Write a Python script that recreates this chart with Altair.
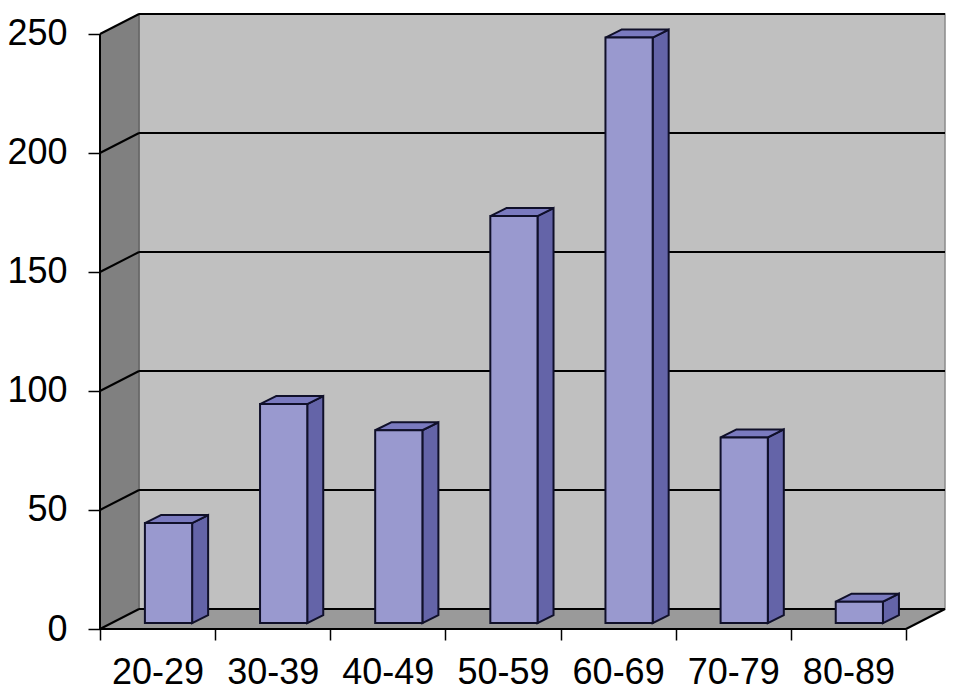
import altair as alt
import pandas as pd

# ---- data ----
categories = ["20-29", "30-39", "40-49", "50-59", "60-69", "70-79", "80-89"]
counts = [42, 92, 81, 171, 246, 78, 9]
y_ticks = [0, 50, 100, 150, 200, 250]

# ---- 3D geometry (in data units) ----
N = len(categories)
YMAX = 250
DXW, DYW = 0.339, 8.4      # wall depth offset
BX0, BX1 = 0.39, 0.80      # bar front face within slot
BBASE = 2.5                # bar base height (depth position)
DXB, DYB = 0.139, 3.36     # bar depth offset

W, H = 845, 615
FONT = "Liberation Sans"

xs = alt.Scale(domain=[0, N + DXW], nice=False, zero=False)
ys = alt.Scale(domain=[0, YMAX + DYW], nice=False, zero=False)

label_arr = "[" + ",".join("'%s'" % c for c in categories) + ",'']"
xaxis = alt.Axis(values=list(range(N + 1)), domain=False, grid=False, title=None,
                 tickSize=11, tickColor="black", tickWidth=1.5,
                 labelExpr=label_arr + "[datum.value]",
                 labelOffset=W / (N + DXW) / 2, labelOverlap=False, labelFlush=False,
                 labelFont=FONT, labelFontSize=36, labelColor="black",
                 labelBaseline="alphabetic", labelPadding=43)
yaxis = alt.Axis(values=y_ticks, domain=False, grid=False, title=None,
                 tickSize=12, tickColor="black", tickWidth=1.5,
                 labelFont=FONT, labelFontSize=36, labelColor="black",
                 labelPadding=21)


def X(f):
    return alt.X(f, scale=xs, axis=xaxis, title=None)


def Y(f):
    return alt.Y(f, scale=ys, axis=yaxis, title=None)


# back wall
back = pd.DataFrame({"x": [DXW], "x2": [N + DXW], "y": [DYW], "y2": [YMAX + DYW]})
back_l = alt.Chart(back).mark_rect(fill="#c0c0c0", stroke="#8a8a8a", strokeWidth=1.5).encode(
    x=X("x:Q"), x2="x2", y=Y("y:Q"), y2="y2")

# left wall (vertical sided parallelogram)
lw = pd.DataFrame({"id": [0, 0], "x": [0, DXW], "y": [0, DYW], "y2": [YMAX, YMAX + DYW]})
left_l = alt.Chart(lw).mark_area(fill="#808080", stroke="#555555", strokeWidth=1, orient="vertical").encode(
    x=X("x:Q"), y=Y("y:Q"), y2="y2", detail="id:N")

# floor (horizontal sided parallelogram)
fl = pd.DataFrame({"id": [0, 0], "y": [0, DYW], "x": [0, DXW], "x2": [N, N + DXW]})
floor_l = alt.Chart(fl).mark_area(fill="#9a9a9a", orient="horizontal").encode(
    y=Y("y:Q"), x=X("x:Q"), x2="x2", detail="id:N")

# grid lines on back wall and left wall
gv = y_ticks
grid_back = pd.DataFrame({"x": [DXW] * len(gv), "x2": [N + DXW] * len(gv),
                          "y": [v + DYW for v in gv]})
grid_b_l = alt.Chart(grid_back).mark_rule(color="black", strokeWidth=2).encode(
    x=X("x:Q"), x2="x2", y=Y("y:Q"))
grid_left = pd.DataFrame({"x": [0] * len(gv), "x2": [DXW] * len(gv),
                          "y": gv, "y2": [v + DYW for v in gv]})
grid_l_l = alt.Chart(grid_left).mark_rule(color="black", strokeWidth=2).encode(
    x=X("x:Q"), x2="x2", y=Y("y:Q"), y2="y2")

# edges: front vertical axis line, floor front edge, floor right edge
edges = pd.DataFrame({"x": [0, 0, N], "x2": [0, N, N + DXW],
                      "y": [0, 0, 0], "y2": [YMAX, 0, DYW]})
edges_l = alt.Chart(edges).mark_rule(color="black", strokeWidth=2).encode(
    x=X("x:Q"), x2="x2", y=Y("y:Q"), y2="y2")

# bars
fronts = pd.DataFrame({"i": list(range(N)),
                       "x": [i + BX0 for i in range(N)], "x2": [i + BX1 for i in range(N)],
                       "y": [BBASE] * N, "y2": [BBASE + v for v in counts]})
side_rows, top_rows = [], []
for i, v in enumerate(counts):
    side_rows.append({"id": i, "x": i + BX1, "y": BBASE, "y2": BBASE + v})
    side_rows.append({"id": i, "x": i + BX1 + DXB, "y": BBASE + DYB, "y2": BBASE + v + DYB})
    top_rows.append({"id": i, "y": BBASE + v, "x": i + BX0, "x2": i + BX1})
    top_rows.append({"id": i, "y": BBASE + v + DYB, "x": i + BX0 + DXB, "x2": i + BX1 + DXB})
sides = pd.DataFrame(side_rows)
tops = pd.DataFrame(top_rows)

side_l = alt.Chart(sides).mark_area(fill="#6464a8", stroke="#10102a", strokeWidth=2,
                                    orient="vertical").encode(
    x=X("x:Q"), y=Y("y:Q"), y2="y2", detail="id:N")
top_l = alt.Chart(tops).mark_area(fill="#7a7abf", stroke="#10102a", strokeWidth=2,
                                  orient="horizontal").encode(
    y=Y("y:Q"), x=X("x:Q"), x2="x2", detail="id:N")
front_l = alt.Chart(fronts).mark_rect(fill="#9999cf", stroke="#10102a", strokeWidth=2).encode(
    x=X("x:Q"), x2="x2", y=Y("y:Q"), y2="y2")

chart = alt.layer(back_l, left_l, floor_l, grid_b_l, grid_l_l, edges_l,
                  side_l, top_l, front_l).properties(
    width=W, height=H,
    autosize=alt.AutoSizeParams(type="none"),
    padding={"left": 92, "top": 6, "right": 4, "bottom": 61},
).configure_view(stroke=None)

chart.save("out.html", embed_options={"renderer": "svg", "actions": False})
